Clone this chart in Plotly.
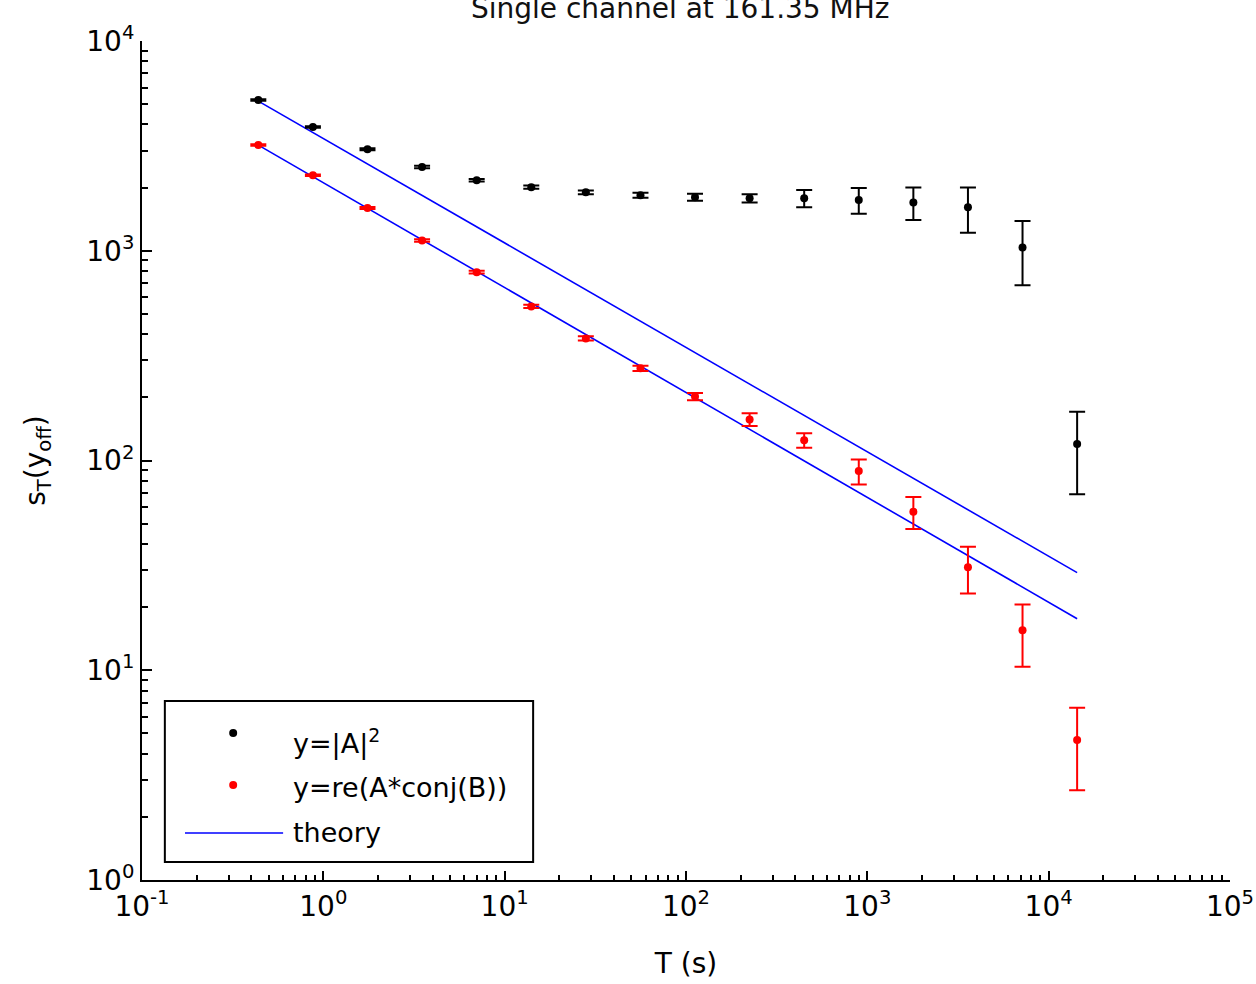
import plotly.graph_objects as go

# ---- data ----
T_s = [0.438, 0.876, 1.752, 3.504, 7.01, 14.02, 28.03, 56.1, 112.1, 224.3, 448.5, 897, 1794, 3588, 7176, 14353]

abs_A2 = [5230, 3890, 3050, 2510, 2170, 2010, 1900, 1840, 1800, 1780, 1780, 1745, 1700, 1610, 1035, 120]
abs_A2_err = [40, 35, 35, 35, 30, 35, 40, 50, 70, 80, 170, 245, 300, 390, 350, 51]

re_AconjB = [3190, 2290, 1600, 1120, 790, 543, 382, 275, 202, 157, 125, 89, 57, 31, 15.5, 4.65]
re_AconjB_err = [25, 20, 18, 15, 12, 10, 9, 8, 8, 11, 10, 12.2, 9.9, 7.8, 5.1, 1.97]

theory_A2 = [5171, 3662, 2594, 1837, 1301, 921, 652, 462, 327, 232, 164, 116, 82.2, 58.3, 41.2, 29.2]
theory_AB = [3189, 2255, 1594, 1127, 797, 564, 399, 282, 199, 141, 99.6, 70.5, 49.8, 35.2, 24.9, 17.6]

x_exps = [-1, 0, 1, 2, 3, 4, 5]
y_exps = [0, 1, 2, 3, 4]

title_text = "Single channel at 161.35 MHz"
legend_labels = ["y=|A|<sup>2</sup>", "y=re(A*conj(B))", "theory"]

FONT = "DejaVu Sans, Verdana, sans-serif"
BLUE = "#0000ff"

fig = go.Figure()

fig.add_trace(go.Scatter(
    x=T_s, y=theory_A2, mode="lines", line=dict(color=BLUE, width=1.6),
    showlegend=False, hoverinfo="skip"))
fig.add_trace(go.Scatter(
    x=T_s, y=theory_AB, mode="lines", line=dict(color=BLUE, width=1.6),
    showlegend=False, hoverinfo="skip"))
fig.add_trace(go.Scatter(
    x=T_s, y=abs_A2, mode="markers",
    marker=dict(color="black", size=8),
    error_y=dict(type="data", array=abs_A2_err, color="black", thickness=2, width=8),
    showlegend=False))
fig.add_trace(go.Scatter(
    x=T_s, y=re_AconjB, mode="markers",
    marker=dict(color="red", size=8),
    error_y=dict(type="data", array=re_AconjB_err, color="red", thickness=2, width=8),
    showlegend=False))

# ---- hand-drawn legend on an overlay axis spanning the plot area ----
fig.add_trace(go.Scatter(x=[0.0838], y=[0.1752], mode="markers", marker=dict(color="black", size=8),
                         xaxis="x2", yaxis="y2", showlegend=False, hoverinfo="skip"))
fig.add_trace(go.Scatter(x=[0.0838], y=[0.1132], mode="markers", marker=dict(color="red", size=8),
                         xaxis="x2", yaxis="y2", showlegend=False, hoverinfo="skip"))
fig.add_trace(go.Scatter(x=[0.0395, 0.1297], y=[0.056, 0.056], mode="lines", line=dict(color=BLUE, width=1.6),
                         xaxis="x2", yaxis="y2", showlegend=False, hoverinfo="skip"))

major_x = [10.0 ** e for e in x_exps]
minor_x = [m * 10.0 ** e for e in x_exps[:-1] for m in range(2, 10)]
major_y = [10.0 ** e for e in y_exps]
minor_y = [m * 10.0 ** e for e in y_exps[:-1] for m in range(2, 10)]

tickfont = dict(family=FONT, size=28, color="black")

fig.update_layout(
    width=1256, height=984,
    margin=dict(l=142, r=26, t=41, b=104, pad=0),
    paper_bgcolor="white", plot_bgcolor="white",
    showlegend=False,
    xaxis=dict(
        type="log", range=[-1, 5], showgrid=False, zeroline=False, automargin=False,
        showline=True, linecolor="black", linewidth=2, mirror=False,
        ticks="inside", ticklen=9, tickwidth=1.5, tickcolor="black",
        tickvals=major_x, ticktext=["10<sup>%d</sup>" % e for e in x_exps],
        tickfont=tickfont, ticklabeloverflow="allow",
        minor=dict(tickvals=minor_x, ticks="inside", ticklen=5, tickwidth=1.5, tickcolor="black", showgrid=False),
        title=dict(text="T (s)", font=dict(family=FONT, size=28, color="black"), standoff=32),
    ),
    yaxis=dict(
        type="log", range=[0, 4], showgrid=False, zeroline=False, automargin=False,
        showline=True, linecolor="black", linewidth=2, mirror=False,
        ticks="inside", ticklen=10, tickwidth=1.5, tickcolor="black",
        tickvals=major_y, ticktext=["10<sup>%d</sup>" % e for e in y_exps],
        tickfont=tickfont, ticklabeloverflow="allow",
        minor=dict(tickvals=minor_y, ticks="inside", ticklen=6, tickwidth=1.5, tickcolor="black", showgrid=False),
        title=dict(text="s<sub>T</sub>(y<sub>off</sub>)", font=dict(family=FONT, size=28, color="black"), standoff=32),
    ),
    xaxis2=dict(range=[0, 1], overlaying="x", visible=False, fixedrange=True),
    yaxis2=dict(range=[0, 1], overlaying="y", visible=False, fixedrange=True),
    shapes=[dict(type="rect", xref="paper", yref="paper", x0=0.021, x1=0.3595, y0=0.0215, y1=0.2133,
                 line=dict(color="black", width=2), fillcolor="rgba(0,0,0,0)", layer="above")],
    annotations=[
        dict(text=title_text, xref="paper", yref="paper", x=0.4945, y=1.0393, xanchor="center", yanchor="middle",
             showarrow=False, font=dict(family=FONT, size=28, color="#111111")),
        dict(text=legend_labels[0], xref="paper", yref="paper", x=0.137, y=0.1645, xanchor="left", yanchor="middle",
             showarrow=False, font=dict(family=FONT, size=27, color="black")),
        dict(text=legend_labels[1], xref="paper", yref="paper", x=0.137, y=0.1097, xanchor="left", yanchor="middle",
             showarrow=False, font=dict(family=FONT, size=27, color="black")),
        dict(text=legend_labels[2], xref="paper", yref="paper", x=0.137, y=0.0572, xanchor="left", yanchor="middle",
             showarrow=False, font=dict(family=FONT, size=27, color="black")),
    ],
)

fig.write_html("out.html")
